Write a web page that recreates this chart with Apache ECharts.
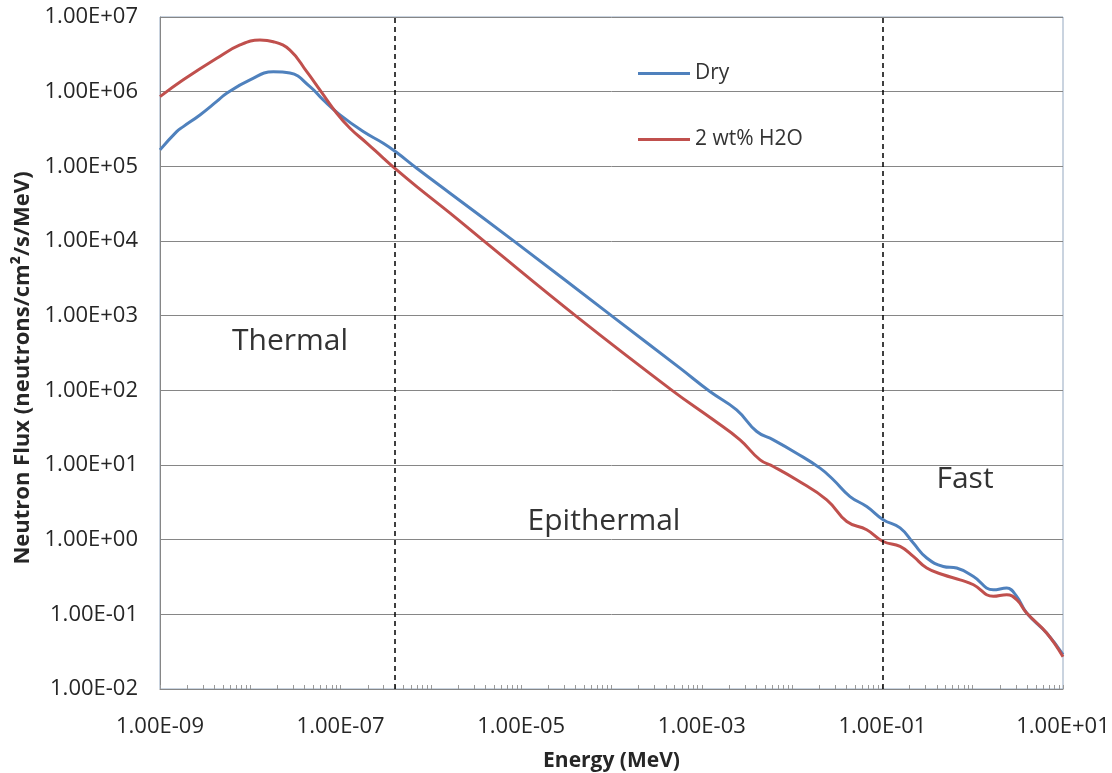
<!DOCTYPE html>
<html>
<head>
<meta charset="utf-8">
<script src="https://cdn.jsdelivr.net/npm/echarts@6/dist/echarts.min.js"></script>
<style>
  html, body { margin: 0; padding: 0; background: #fff; }
  #main { width: 1112px; height: 773px; }
</style>
</head>
<body>
<div id="main"></div>
<script>
// energy in MeV, flux in neutrons/cm2/s/MeV
const dryEnergy = [1e-9, 1.53e-9, 1.81e-9, 2.77e-9, 4.25e-9, 5.48e-9, 9.93e-9, 1.8e-8, 2.75e-8, 4.58e-8,
  6.43e-8, 9.84e-8, 1.78e-7, 2.97e-7, 4.18e-7, 6.97e-7, 1.63e-6, 8.53e-6, 1.04e-4, 5.74e-4,
  1.23e-3, 2.43e-3, 4.06e-3, 6.19e-3, 1.12e-2, 2.04e-2, 2.86e-2, 4.38e-2, 6.7e-2, 0.102,
  0.157, 0.22, 0.31, 0.472, 0.665, 1.02, 1.69, 2.38, 3.07, 3.96, 6.59, 10]
const dryFlux = [1.66e5, 2.92e5, 3.4e5, 4.88e5, 7.4e5, 9.53e5, 1.44e6, 1.85e6, 1.78e6, 1.17e6,
  7.74e5, 4.88e5, 2.92e5, 2.04e5, 1.53e5, 9.44e4, 4.37e4, 9.73e3, 964, 198,
  96.4, 54.8, 28.1, 21.7, 14.4, 9.08, 6.34, 3.78, 2.78, 1.85,
  1.44, 0.9, 0.568, 0.438, 0.417, 0.321, 0.213, 0.225, 0.174, 0.104, 0.0562, 0.0288]

const wetEnergy = [1e-9, 1.81e-9, 4.25e-9, 7.69e-9, 1.28e-8, 1.8e-8, 2.75e-8, 4.22e-8, 5.92e-8, 9.06e-8,
  1.27e-7, 1.95e-7, 2.97e-7, 4.18e-7, 6.97e-7, 1.63e-6, 3.97e-6, 4.15e-5, 4.68e-4, 1.34e-3,
  2.65e-3, 4.42e-3, 6.19e-3, 1.12e-2, 2.42e-2, 4.03e-2, 6.7e-2, 0.102, 0.157, 0.22,
  0.31, 0.472, 0.724, 1.02, 1.69, 2.38, 3.07, 3.96, 6.59, 10]
const wetFlux = [8.57e5, 1.44e6, 2.8e6, 4.22e6, 4.92e6, 4.67e6, 3.61e6, 1.85e6, 1.05e6, 5.14e5,
  3.24e5, 2.05e5, 1.29e5, 8.95e4, 5.35e4, 2.36e4, 9.73e3, 964, 100, 40.3,
  21.7, 11.7, 9.55, 6.34, 3.42, 1.75, 1.36, 0.946, 0.811, 0.596,
  0.417, 0.339, 0.29, 0.249, 0.174, 0.183, 0.157, 0.104, 0.0562, 0.027]

const seriesNames = ['Dry', '2 wt% H2O']
const xLabelValues = [1e-9, 1e-7, 1e-5, 1e-3, 1e-1, 1e1]
const yRange = [0.01, 1e7]
const regionBounds = [4e-7, 0.1]
const regionNames = ['Thermal', 'Epithermal', 'Fast']

// minor ticks on the energy axis: 1..9 x 10^n
const xTickValues = []
for (let p = -9; p <= 0; p++) {
  for (let k = 1; k <= 9; k++) xTickValues.push(k * Math.pow(10, p))
}
xTickValues.push(10)

// 1.00E+07 style labels, like Excel
const sci = (v) => {
  const s = Number(v).toExponential(2).toUpperCase()
  return s.replace(/E([+-])(\d+)$/, (m, sign, d) => 'E' + sign + (d.length < 2 ? '0' + d : d))
}

const font = 'Open Sans'
const legendText = { fontSize: 21, color: '#333', fontFamily: font }
const regionFont = '30px "Open Sans"'
const chart = echarts.init(document.getElementById('main'))

const option = {
  animation: false,
  textStyle: { fontFamily: font },
  grid: {
    left: 160,
    top: 17,
    right: 49,
    bottom: 84,
    outerBoundsMode: 'none',
    show: true,
    borderColor: '#95a8c0',
    borderWidth: 1
  },
  legend: [
    {
      data: [seriesNames[0]],
      left: 633,
      top: 58,
      icon: 'rect',
      itemWidth: 52,
      itemHeight: 3,
      textStyle: legendText
    },
    {
      data: [seriesNames[1]],
      left: 633,
      top: 124,
      icon: 'rect',
      itemWidth: 52,
      itemHeight: 3,
      textStyle: legendText
    }
  ],
  xAxis: {
    type: 'log',
    logBase: 10,
    min: xLabelValues[0],
    max: xLabelValues[xLabelValues.length - 1],
    name: 'Energy (MeV)',
    nameLocation: 'middle',
    nameGap: 62,
    nameTextStyle: { fontWeight: 'bold', fontSize: 21, color: '#262626', fontFamily: font },
    axisLine: { lineStyle: { color: '#868686', width: 1 } },
    axisTick: {
      inside: true,
      length: 4,
      customValues: xTickValues,
      lineStyle: { color: '#9a9a9a' }
    },
    axisLabel: {
      customValues: xLabelValues,
      formatter: sci,
      margin: 27,
      fontSize: 22,
      color: '#262626'
    },
    splitLine: { show: false }
  },
  yAxis: {
    type: 'log',
    logBase: 10,
    min: yRange[0],
    max: yRange[1],
    name: 'Neutron Flux (neutrons/cm²/s/MeV)',
    nameLocation: 'middle',
    nameGap: 124,
    nameTextStyle: { fontWeight: 'bold', fontSize: 22, color: '#262626', fontFamily: font, padding: [0, 30, 0, 0] },
    axisLine: { show: true, lineStyle: { color: '#868686', width: 1 } },
    axisTick: { show: false },
    axisLabel: { formatter: sci, margin: 22, fontSize: 22, color: '#262626' },
    splitLine: { show: true, lineStyle: { color: '#868686', width: 1 } }
  },
  graphic: [
    { type: 'text', x: 290, y: 341, style: { text: regionNames[0], font: regionFont, fill: '#333', align: 'center', verticalAlign: 'middle' } },
    { type: 'text', x: 604, y: 521, style: { text: regionNames[1], font: regionFont, fill: '#333', align: 'center', verticalAlign: 'middle' } },
    { type: 'text', x: 965, y: 479, style: { text: regionNames[2], font: regionFont, fill: '#333', align: 'center', verticalAlign: 'middle' } }
  ],
  series: [
    {
      name: seriesNames[0],
      type: 'line',
      data: dryEnergy.map((e, i) => [e, dryFlux[i]]),
      smooth: 0.45,
      showSymbol: false,
      lineStyle: { color: '#4f81bd', width: 3 },
      itemStyle: { color: '#4f81bd' },
      markLine: {
        silent: true,
        symbol: 'none',
        precision: 12,
        label: { show: false },
        lineStyle: { color: '#000', type: [5, 4], width: 1.5 },
        data: regionBounds.map((v) => [{ coord: [v, yRange[0]] }, { coord: [v, yRange[1]] }])
      }
    },
    {
      name: seriesNames[1],
      type: 'line',
      data: wetEnergy.map((e, i) => [e, wetFlux[i]]),
      smooth: 0.45,
      showSymbol: false,
      lineStyle: { color: '#c0504d', width: 3 },
      itemStyle: { color: '#c0504d' }
    }
  ]
}

chart.setOption(option)
</script>
</body>
</html>
